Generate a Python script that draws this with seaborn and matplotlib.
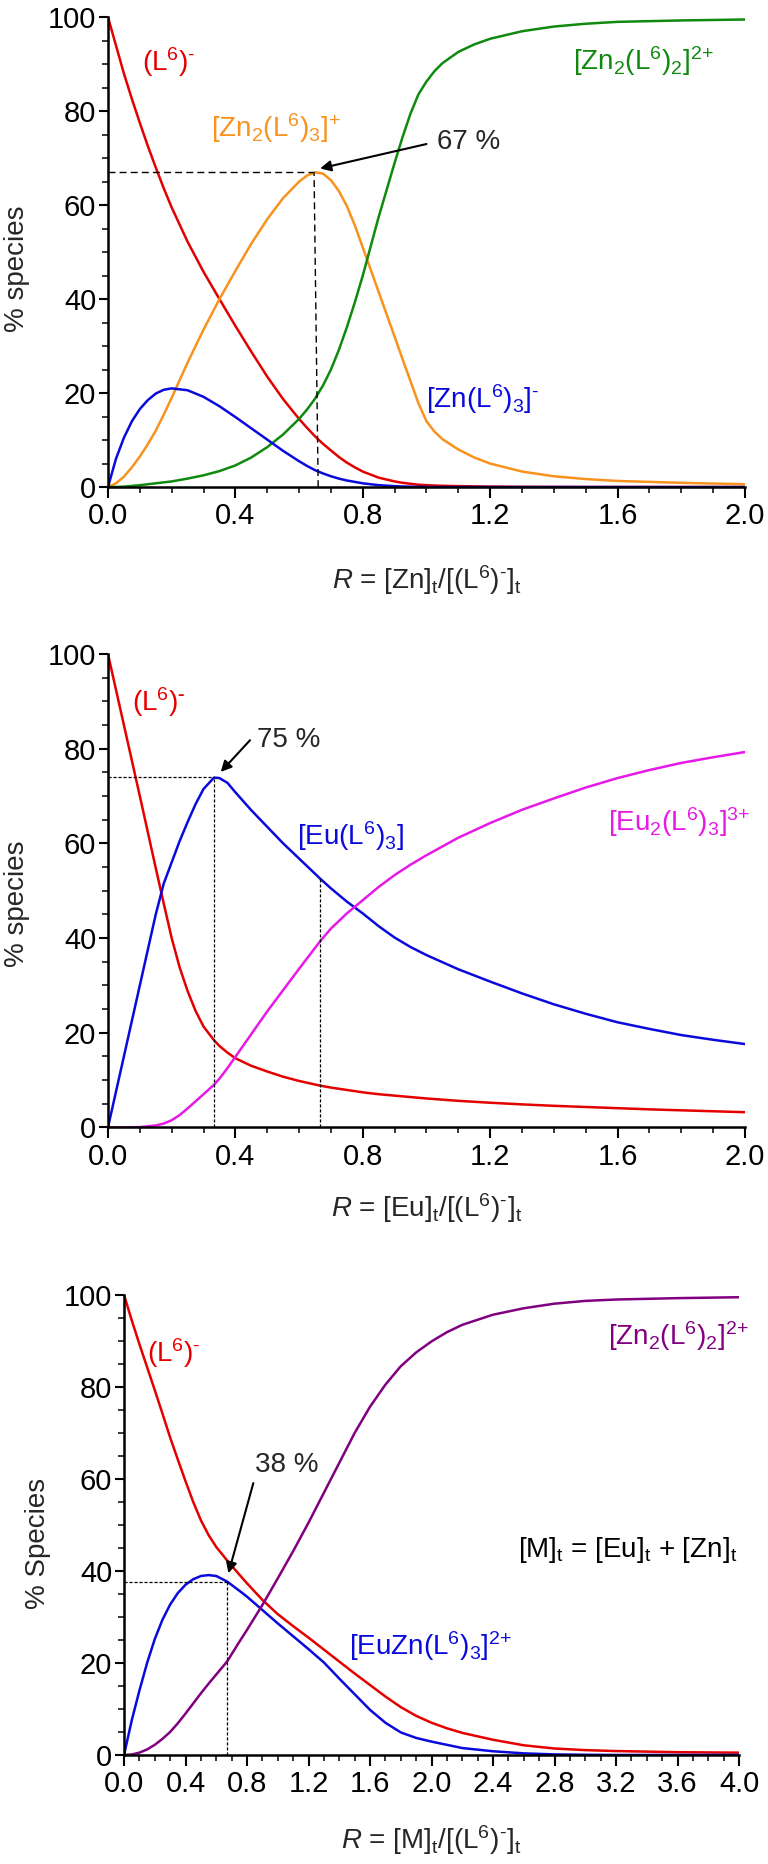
import matplotlib
matplotlib.use("Agg")
import matplotlib.pyplot as plt
from matplotlib.ticker import MultipleLocator, FormatStrFormatter
import seaborn as sns

# ---------------- data ----------------
# Panel 1: Zn titration
R1 = [0, 0.025, 0.05, 0.075, 0.1, 0.125, 0.15, 0.175, 0.2, 0.25, 0.3, 0.35, 0.4, 0.45, 0.5,
      0.55, 0.6, 0.625, 0.65, 0.675, 0.7, 0.725, 0.75, 0.775, 0.8, 0.85, 0.9, 0.925, 0.95,
      0.975, 1.0, 1.025, 1.05, 1.1, 1.15, 1.2, 1.3, 1.4, 1.5, 1.6, 1.8, 2.0]
p1_L = [100, 94, 88, 82.6, 77.5, 72.6, 68, 63.6, 59.5, 52.2, 45.8, 40, 34.3, 28.8, 23.5,
        18.7, 14.5, 12.6, 10.8, 9.2, 7.8, 6.4, 5.2, 4.2, 3.3, 2.0, 1.2, 0.9, 0.7,
        0.5, 0.4, 0.33, 0.27, 0.2, 0.15, 0.1, 0.05, 0.03, 0.02, 0.02, 0.01, 0.01]
p1_Zn2L3 = [0, 0.8, 2.2, 4.2, 6.5, 9.1, 12, 15.4, 19, 26.5, 33.5, 40, 46, 51.8, 57,
            61.5, 65, 66.3, 67, 66.7, 65.3, 63, 59.8, 55.7, 51, 41.5, 32, 27.2, 22.5,
            17.8, 14, 11.8, 10.2, 8, 6.3, 5, 3.3, 2.3, 1.7, 1.3, 0.9, 0.6]
p1_Zn2L2 = [0, 0.03, 0.1, 0.25, 0.4, 0.6, 0.8, 1.0, 1.2, 1.8, 2.5, 3.4, 4.6, 6.3, 8.5,
            11.2, 14.5, 16.5, 18.8, 21.6, 25, 29.2, 34, 39.3, 45, 57.5, 69, 74.5, 79.5,
            83.6, 86.3, 88.5, 90.2, 92.6, 94.2, 95.4, 97, 98, 98.6, 99, 99.3, 99.5]
p1_ZnL3 = [0, 6, 10.5, 14, 16.6, 18.5, 19.9, 20.7, 21, 20.6, 19.2, 17.2, 14.9, 12.5, 10.1,
           7.7, 5.5, 4.5, 3.6, 2.9, 2.3, 1.8, 1.4, 1.1, 0.8, 0.4, 0.2, 0.12, 0.08,
           0.05, 0.03, 0, 0, 0, 0, 0, 0, 0, 0, 0, 0, 0]

# Panel 2: Eu titration
R2 = [0, 0.05, 0.1, 0.15, 0.175, 0.2, 0.225, 0.25, 0.275, 0.3, 0.333, 0.35, 0.375, 0.4,
      0.45, 0.5, 0.55, 0.6, 0.667, 0.7, 0.75, 0.8, 0.85, 0.9, 0.95, 1.0, 1.1, 1.2, 1.3, 1.4,
      1.5, 1.6, 1.7, 1.8, 1.9, 2.0]
p2_L = [100, 85, 70, 54.8, 47.3, 40, 33.8, 28.8, 24.6, 21.3, 18.4, 17.2, 15.8, 14.6,
        13, 11.8, 10.7, 9.8, 8.8, 8.4, 7.9, 7.4, 7.0, 6.7, 6.4, 6.1, 5.6, 5.2, 4.85, 4.55,
        4.3, 4.05, 3.8, 3.6, 3.4, 3.2]
p2_EuL3 = [0, 15, 30, 45, 51.5, 56, 60.5, 64.5, 68.3, 71.5, 73.9, 73.8, 72.8, 70.8,
           67, 63.5, 60, 56.8, 52.5, 50.5, 47.7, 45.2, 42.5, 40.1, 38.1, 36.4, 33.4, 30.8,
           28.3, 26, 24, 22.2, 20.8, 19.5, 18.5, 17.6]
p2_Eu2L3 = [0, 0, 0.05, 0.4, 0.8, 1.5, 2.6, 4.0, 5.5, 7.0, 9.0, 10.3, 12.5, 14.9,
            19.7, 24.5, 29, 33.5, 39.4, 42, 45.2, 48, 50.8, 53.3, 55.5, 57.5, 61.2, 64.3,
            67.1, 69.5, 71.8, 73.8, 75.5, 77, 78.2, 79.3]

# Panel 3: Eu + Zn titration
R3 = [0, 0.05, 0.1, 0.15, 0.2, 0.25, 0.3, 0.35, 0.4, 0.45, 0.5, 0.55, 0.6, 0.67, 0.75, 0.8,
      0.9, 1.0, 1.1, 1.2, 1.3, 1.4, 1.5, 1.6, 1.7, 1.8, 1.9, 2.0, 2.1, 2.2, 2.4, 2.6, 2.8,
      3.0, 3.2, 3.6, 4.0]
p3_L = [100, 94.5, 89.3, 84.3, 79.3, 74.2, 69, 64.2, 59.5, 55, 51, 47.8, 45.2, 42.3, 39.2,
        37.3, 33.7, 30.6, 28, 25.5, 22.9, 20.3, 17.7, 15.2, 12.7, 10.4, 8.5, 7.0, 5.8, 4.8,
        3.3, 2.1, 1.4, 1.05, 0.85, 0.6, 0.5]
p3_EuZnL3 = [0, 7.5, 14, 20, 25.2, 29.4, 32.7, 35.2, 37, 38.2, 38.9, 39.1, 38.9, 37.7, 35.7,
             34.4, 31.5, 28.6, 25.8, 23, 20.1, 16.6, 13.2, 9.8, 7.0, 4.9, 3.7, 2.9, 2.2, 1.5,
             0.8, 0.35, 0.12, 0.04, 0, 0, 0]
p3_Zn2L2 = [0, 0.1, 0.5, 1.2, 2.2, 3.5, 5, 6.9, 9, 11.2, 13.4, 15.5, 17.5, 20.3, 24.6,
            27.2, 32.6, 38.4, 44.3, 50.5, 57, 63.5, 70, 75.7, 80.5, 84.5, 87.5, 89.9, 91.9,
            93.5, 95.7, 97.1, 98.1, 98.7, 99, 99.3, 99.5]

y_ticks = [0, 20, 40, 60, 80, 100]
x_ticks_12 = [0.0, 0.4, 0.8, 1.2, 1.6, 2.0]
x_ticks_3 = [0.0, 0.4, 0.8, 1.2, 1.6, 2.0, 2.4, 2.8, 3.2, 3.6, 4.0]

# ---------------- style ----------------
sns.set_theme(style="ticks")
plt.rcParams["font.family"] = ["Liberation Sans", "DejaVu Sans"]
plt.rcParams["mathtext.fontset"] = "custom"
plt.rcParams["mathtext.rm"] = "Liberation Sans"
plt.rcParams["mathtext.it"] = "Liberation Sans:italic"
plt.rcParams["mathtext.bf"] = "Liberation Sans:bold"
plt.rcParams["mathtext.sf"] = "Liberation Sans"
FS = 20
TFS = 21

RED = "#E50000"
ORANGE = "#F7931E"
GREEN = "#0F8A0F"
BLUE = "#0A0ADC"
MAGENTA = "#E619E6"
PURPLE = "#800080"

HY = "\u2010"  # short hyphen used as charge sign

fig = plt.figure(figsize=(7.68, 18.64), dpi=100)
ax1 = fig.add_axes([0.1406, 0.7387, 0.8294, 0.2521])
ax2 = fig.add_axes([0.1406, 0.3952, 0.8294, 0.2539])
ax3 = fig.add_axes([0.1615, 0.0585, 0.8008, 0.2468])


def style_axis(ax, xmax, xticks, ylabel, xlabel, xl_y, yl_x, yl_y):
    ax.set_xlim(0, xmax)
    ax.set_ylim(0, 100)
    ax.set_xticks(xticks)
    ax.set_yticks(y_ticks)
    ax.xaxis.set_major_formatter(FormatStrFormatter("%.1f"))
    ax.xaxis.set_minor_locator(MultipleLocator(0.1))
    ax.yaxis.set_minor_locator(MultipleLocator(5))
    sns.despine(ax=ax)
    for s in ("left", "bottom"):
        ax.spines[s].set_linewidth(1.8)
        ax.spines[s].set_color("black")
    ax.tick_params(axis="both", which="major", direction="out", width=1.5,
                   labelsize=TFS, colors="black")
    ax.tick_params(axis="x", which="major", length=8, pad=3)
    ax.tick_params(axis="y", which="major", length=6.5, pad=2)
    ax.tick_params(axis="both", which="minor", direction="out", width=1.3, length=4)
    ax.set_xlabel(xlabel, fontsize=FS, va="center")
    ax.xaxis.set_label_coords(0.5, xl_y)
    ax.set_ylabel(ylabel, fontsize=FS, va="center")
    ax.yaxis.set_label_coords(yl_x, yl_y)
    ax.grid(False)


LW = 1.8
ARROW = dict(arrowstyle="-|>", color="black", lw=1.5, mutation_scale=16, shrinkA=0, shrinkB=0)

# ---------------- panel 1 ----------------
sns.lineplot(x=R1, y=p1_L, ax=ax1, color=RED, lw=LW)
sns.lineplot(x=R1, y=p1_Zn2L3, ax=ax1, color=ORANGE, lw=LW)
sns.lineplot(x=R1, y=p1_Zn2L2, ax=ax1, color=GREEN, lw=LW)
sns.lineplot(x=R1, y=p1_ZnL3, ax=ax1, color=BLUE, lw=LW)
ax1.plot([0, 0.645], [67, 67], color="black", lw=1.0, dashes=(5, 3))
ax1.plot([0.66, 0.647], [0, 67], color="black", lw=1.0, dashes=(5, 3))
ax1.annotate("", xy=(0.666, 67.8), xytext=(1.0, 73), arrowprops=ARROW)
ax1.text(1.032, 72, "67 %", fontsize=FS, va="baseline", ha="left")
ax1.text(0.106, 88.6, r"(L$^{6}$)$^{" + HY + "}$", color=RED, fontsize=FS, va="baseline")
ax1.text(0.324, 74.5, r"[Zn$_{2}$(L$^{6}$)$_{3}$]$^{{+}}$", color=ORANGE, fontsize=FS,
         va="baseline")
ax1.text(1.46, 88.7, r"[Zn$_{2}$(L$^{6}$)$_{2}$]$^{2{+}}$", color=GREEN, fontsize=FS,
         va="baseline")
ax1.text(1.0, 16.8, r"[Zn(L$^{6}$)$_{3}$]$^{" + HY + "}$", color=BLUE, fontsize=FS,
         va="baseline")
style_axis(ax1, 2.0, x_ticks_12, "% species",
           r"$R$ = [Zn]$_\mathrm{t}$/[(L$^{6}$)$^{" + HY + r"}$]$_\mathrm{t}$",
           -0.198, -0.143, 0.464)

# ---------------- panel 2 ----------------
sns.lineplot(x=R2, y=p2_L, ax=ax2, color=RED, lw=LW)
sns.lineplot(x=R2, y=p2_EuL3, ax=ax2, color=BLUE, lw=LW)
sns.lineplot(x=R2, y=p2_Eu2L3, ax=ax2, color=MAGENTA, lw=LW)
ax2.plot([0, 0.333], [74, 74], color="black", lw=0.9, dashes=(2.5, 1.5))
ax2.plot([0.333, 0.333], [0, 74], color="black", lw=0.9, dashes=(2.5, 1.5))
ax2.plot([0.667, 0.667], [0, 52.5], color="black", lw=0.9, dashes=(2.5, 1.5))
ax2.annotate("", xy=(0.354, 75.1), xytext=(0.446, 81.8), arrowprops=ARROW)
ax2.text(0.467, 80.4, "75 %", fontsize=FS, va="baseline", ha="left")
ax2.text(0.074, 88.0, r"(L$^{6}$)$^{\mathbf{" + HY + "}}$", color=RED, fontsize=FS,
         va="baseline")
ax2.text(0.592, 59.6, r"[Eu(L$^{6}$)$_{3}$]", color=BLUE, fontsize=FS, va="baseline")
ax2.text(1.569, 62.6, r"[Eu$_{2}$(L$^{6}$)$_{3}$]$^{3{+}}$", color=MAGENTA, fontsize=FS,
         va="baseline")
style_axis(ax2, 2.0, x_ticks_12, "% species",
           r"$R$ = [Eu]$_\mathrm{t}$/[(L$^{6}$)$^{" + HY + r"}$]$_\mathrm{t}$",
           -0.171, -0.143, 0.472)

# ---------------- panel 3 ----------------
sns.lineplot(x=R3, y=p3_L, ax=ax3, color=RED, lw=LW)
sns.lineplot(x=R3, y=p3_EuZnL3, ax=ax3, color=BLUE, lw=LW)
sns.lineplot(x=R3, y=p3_Zn2L2, ax=ax3, color=PURPLE, lw=LW)
ax3.plot([0, 0.67], [37.7, 37.7], color="black", lw=0.9, dashes=(2.5, 1.5))
ax3.plot([0.67, 0.67], [0, 37.7], color="black", lw=0.9, dashes=(2.5, 1.5))
ax3.annotate("", xy=(0.679, 39.5), xytext=(0.841, 59.1), arrowprops=ARROW)
ax3.text(0.852, 61.6, "38 %", fontsize=FS, va="baseline", ha="left")
ax3.text(0.152, 85.5, r"(L$^{6}$)$^{" + HY + "}$", color=RED, fontsize=FS, va="baseline")
ax3.text(3.148, 89.1, r"[Zn$_{2}$(L$^{6}$)$_{2}$]$^{2{+}}$", color=PURPLE, fontsize=FS,
         va="baseline")
ax3.text(3.99, 43, r"[M]$_\mathrm{t}$ = [Eu]$_\mathrm{t}$ + [Zn]$_\mathrm{t}$", color="black",
         fontsize=FS, va="baseline", ha="right")
ax3.text(1.46, 21.7, r"[EuZn(L$^{6}$)$_{3}$]$^{2{+}}$", color=BLUE, fontsize=FS,
         va="baseline")
style_axis(ax3, 4.0, x_ticks_3, "% Species",
           r"$R$ = [M]$_\mathrm{t}$/[(L$^{6}$)$^{" + HY + r"}$]$_\mathrm{t}$",
           -0.185, -0.14, 0.46)

fig.savefig("out.png", dpi=100)
